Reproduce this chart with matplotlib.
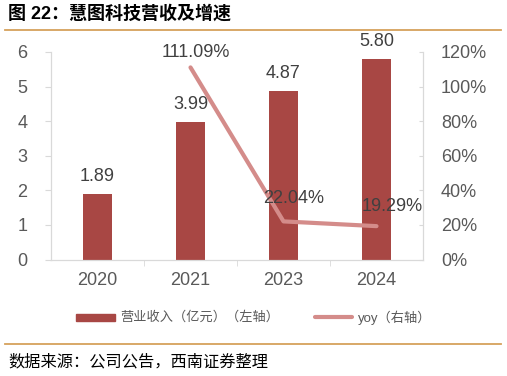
import matplotlib
matplotlib.use('Agg')
import matplotlib.pyplot as plt
from matplotlib.ticker import FixedLocator, PercentFormatter
from matplotlib.patches import Rectangle
from matplotlib.lines import Line2D

plt.rcParams['font.family'] = ['Liberation Sans', 'Noto Sans CJK SC', 'DejaVu Sans']

years = ['2020', '2021', '2023', '2024']
revenue = [1.89, 3.99, 4.87, 5.80]
yoy_years = ['2021', '2023', '2024']
yoy = [111.09, 22.04, 19.29]
rev_labels = ['1.89', '3.99', '4.87', '5.80']
yoy_labels = ['111.09%', '22.04%', '19.29%']

bar_color = '#a84744'
line_color = '#d48c8a'
text_color = '#404040'
tick_color = '#595959'
spine_color = '#d9d9d9'
rule_color = '#d6a15c'
fs = 13

fig = plt.figure(figsize=(5.07, 3.76), dpi=100)
ax = fig.add_axes([51 / 507, 1 - 259.5 / 376, 372 / 507, 207.5 / 376])
ax2 = ax.twinx()

x = list(range(len(years)))
ax.bar(x, revenue, width=0.31, color=bar_color, zorder=2)
for i, v in enumerate(revenue):
    ax.text(i, v + 0.5, rev_labels[i], ha='center', va='center',
            fontsize=fs, color=text_color)

xl = [years.index(y) for y in yoy_years]
ax2.plot(xl, yoy, color=line_color, lw=3.0, solid_capstyle='round', zorder=3)
offsets = [(3.6, 10.8), (7, 16.8), (11.5, 14)]
for i, (xi, v) in enumerate(zip(xl, yoy)):
    ax2.annotate(yoy_labels[i], (xi, v), xytext=offsets[i], textcoords='offset points',
                 ha='center', va='center', fontsize=fs, color=text_color)

ax.set_xlim(-0.5, 3.5)
ax.set_ylim(0, 6)
ax2.set_ylim(0, 120)
ax.set_yticks(range(0, 7))
ax2.set_yticks(range(0, 121, 20))
ax2.yaxis.set_major_formatter(PercentFormatter(decimals=0))

ax.set_xticks(x)
ax.set_xticklabels(years)
ax.xaxis.set_minor_locator(FixedLocator([0.5, 1.5, 2.5]))
ax.tick_params(axis='x', which='major', length=0, pad=9, labelsize=fs, labelcolor=tick_color)
ax.tick_params(axis='x', which='minor', length=4, color=spine_color, direction='out')
ax.tick_params(axis='y', length=4, color=spine_color, direction='out', pad=13,
               labelsize=fs, labelcolor=tick_color)
ax2.tick_params(axis='y', length=3, color=spine_color, direction='in', pad=13,
                labelsize=fs, labelcolor=tick_color)

for a in (ax, ax2):
    a.spines['top'].set_visible(False)
    for s in ('left', 'right', 'bottom'):
        a.spines[s].set_color(spine_color)
ax.set_facecolor('none')
ax2.set_zorder(ax.get_zorder() + 1)

# title and rules
fig.text(8 / 507, 1 - 14 / 376, '图 22：慧图科技营收及增速', fontsize=13, fontweight='bold',
         color='black', va='center', ha='left',
         family=['Liberation Sans', 'Noto Sans CJK SC'])
fig.add_artist(Line2D([5 / 507, 501 / 507], [1 - 29.5 / 376, 1 - 29.5 / 376], color=rule_color, lw=1.3))
fig.add_artist(Line2D([5 / 507, 501 / 507], [1 - 344 / 376, 1 - 344 / 376], color=rule_color, lw=1.3))
fig.text(8 / 507, 1 - 361.5 / 376, '数据来源：公司公告，西南证券整理', fontsize=11.7, style='italic',
         color='black', va='center', ha='left', family=['Noto Sans CJK SC'])

# legend
fig.add_artist(Rectangle((76 / 507, 1 - 320.5 / 376), 39 / 507, 7 / 376, color=bar_color))
fig.text(120 / 507, 1 - 317.5 / 376, '营业收入（亿元）（左轴）', fontsize=9.5, color=tick_color,
         va='center', ha='left', family=['Noto Sans CJK SC'])
fig.add_artist(Line2D([315 / 507, 352 / 507], [1 - 317 / 376, 1 - 317 / 376], color=line_color,
                      lw=3.0, solid_capstyle='round'))
fig.text(358 / 507, 1 - 317.5 / 376, 'yoy（右轴）', fontsize=9.5, color=tick_color,
         va='center', ha='left', family=['Liberation Sans', 'Noto Sans CJK SC'])

fig.savefig('out.png', dpi=100)
